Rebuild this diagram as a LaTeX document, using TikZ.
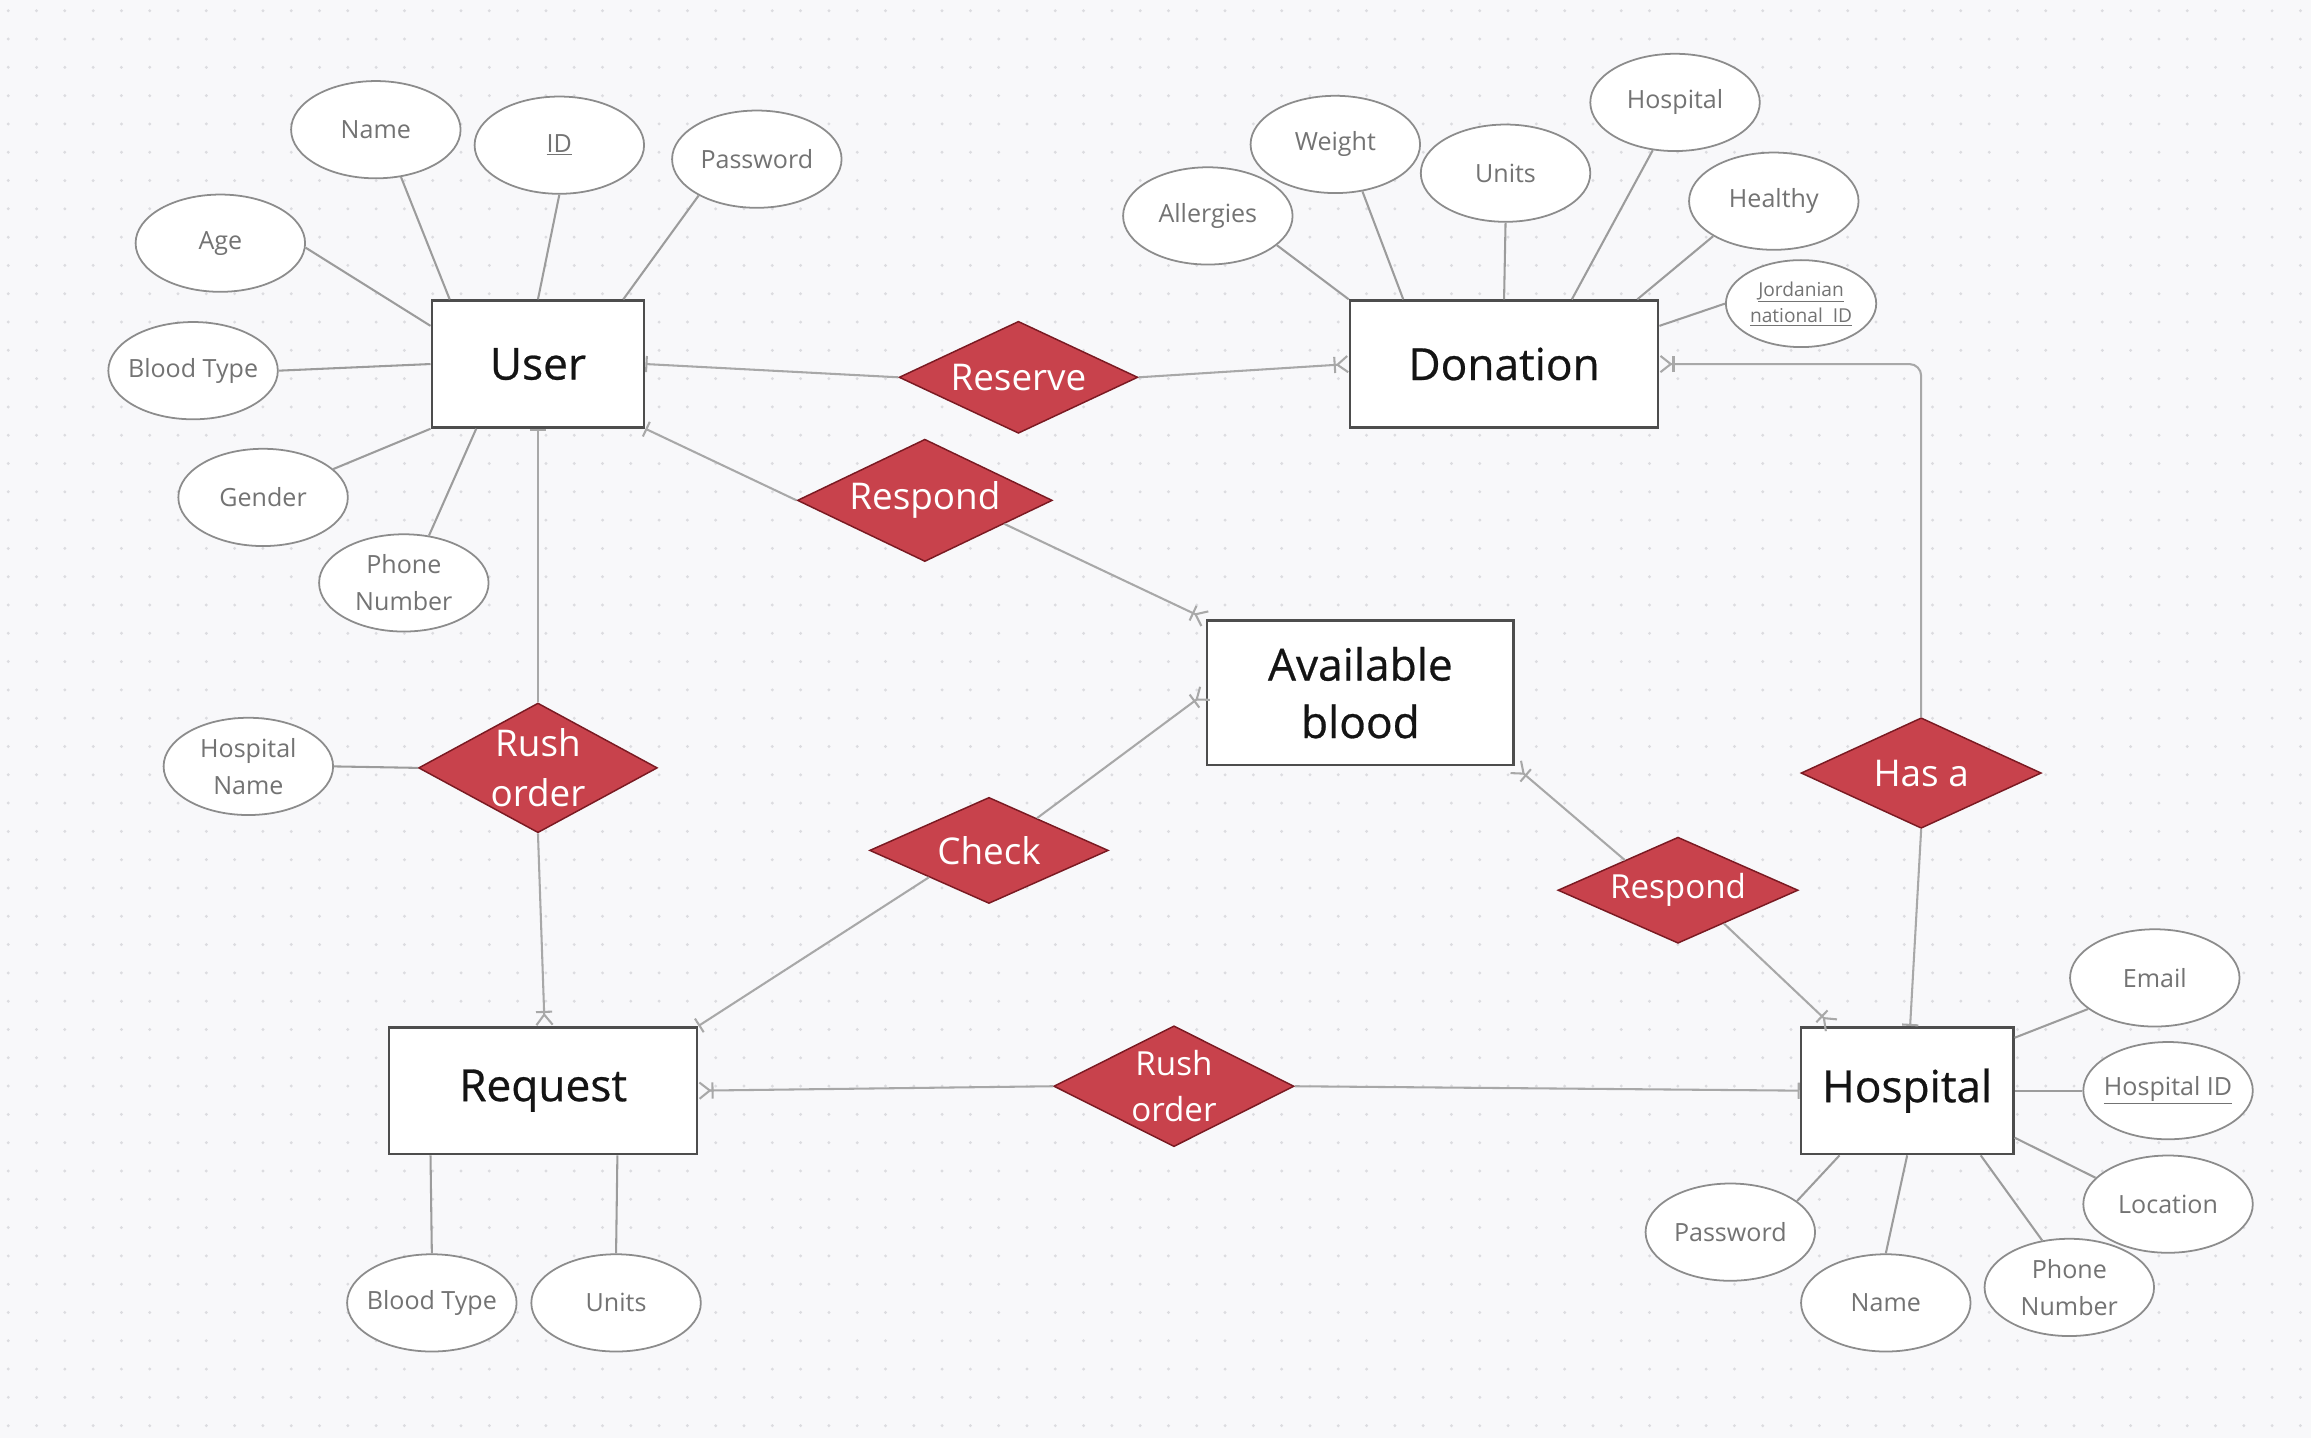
\documentclass[tikz,border=0pt]{standalone}
\usepackage{fontspec}
\setmainfont{Open Sans}
\newfontfamily\entfont[FakeBold=0.6]{Open Sans}
\usetikzlibrary{shapes.geometric,arrows.meta,calc}
\definecolor{bgc}{HTML}{F8F8FA}
\definecolor{dotc}{HTML}{DCDCE0}
\definecolor{entb}{HTML}{4D4D4D}
\definecolor{relc}{HTML}{C8424C}
\definecolor{reld}{HTML}{7A1A22}
\definecolor{attb}{HTML}{8C8C8C}
\definecolor{attt}{HTML}{737373}
\definecolor{linec}{HTML}{A8A8A8}
\definecolor{alinec}{HTML}{9C9C9C}
\begin{document}
\begin{tikzpicture}[x=1pt,y=-1pt,
 ent/.style={draw=entb, fill=white, line width=1.8pt, inner sep=0pt, align=center, text=black!92, font=\entfont\fontsize{30}{39}\selectfont},
 rel/.style={diamond, draw=reld, fill=relc, line width=1pt, inner sep=0pt},
 reltxt/.style={text=white, align=center, font=\fontsize{25}{34}\selectfont, inner sep=0pt},
 reltxts/.style={text=white, align=center, font=\fontsize{22.5}{31}\selectfont, inner sep=0pt},
 att/.style={ellipse, draw=attb, fill=white, line width=1.2pt, inner sep=0pt, minimum width=115pt, minimum height=66pt},
 atttxt/.style={text=attt, align=center, font=\fontsize{17}{25}\selectfont, inner sep=0pt},
 aline/.style={draw=alinec, line width=1.4pt},
 rline/.style={draw=linec, line width=1.4pt},
 barS/.style={{Bar[width=11pt]}-},
 barE/.style={-{Bar[width=11pt]}},
 crowS/.style={{Straight Barb[reversed,length=7pt,width=11pt]Bar[width=11pt]}-},
 crowE/.style={-{Bar[width=11pt]Straight Barb[reversed,length=7pt,width=11pt]}}
]
\fill[bgc] (0,0) rectangle (1568,976);
\useasboundingbox (0,0) rectangle (1568,976);
\foreach \i in {0,...,81}{\foreach \j in {0,...,50}{\fill[dotc] (5.6+\i*19.2,7.3+\j*19.2) circle (1.1pt);}}

% entities
\node[ent, minimum width=144pt, minimum height=86pt] (user) at (365,247) {User};
\node[ent, minimum width=209pt, minimum height=86pt] (donation) at (1020.5,247) {Donation};
\node[ent, minimum width=208pt, minimum height=98pt] (avail) at (923,470) {Available\\blood};
\node[ent, minimum width=209pt, minimum height=86pt] (request) at (368.5,740) {Request};
\node[ent, minimum width=144pt, minimum height=86pt] (hospital) at (1294,740) {Hospital};

% relationships
\node[rel, minimum width=162pt, minimum height=76pt, label={[reltxt]center:Reserve}] (reserve) at (691,256) {};
\node[rel, minimum width=173pt, minimum height=83pt, label={[reltxt]center:Respond}] (respond1) at (627.5,339.5) {};
\node[rel, minimum width=162pt, minimum height=88pt, label={[reltxt]center:Rush\\order}] (rush1) at (365,521) {};
\node[rel, minimum width=162pt, minimum height=72pt, label={[reltxt]center:Check}] (check) at (671,577) {};
\node[rel, minimum width=163pt, minimum height=75pt, label={[reltxt]center:Has a}] (hasa) at (1303.5,524.5) {};
\node[rel, minimum width=163pt, minimum height=72pt, label={[reltxts]center:Respond}] (respond2) at (1138.5,604) {};
\node[rel, minimum width=163pt, minimum height=82pt, label={[reltxts]center:Rush\\order}] (rush2) at (796.5,737) {};

% attributes of User
\node[att, label={[atttxt]center:Name}] (uName) at (255,88) {};
\node[att, label={[atttxt]center:\underline{ID}}] (uID) at (379.5,98.5) {};
\node[att, label={[atttxt]center:Password}] (uPwd) at (513.5,108) {};
\node[att, label={[atttxt]center:Age}] (uAge) at (149.5,165) {};
\node[att, label={[atttxt]center:Blood Type}] (uBT) at (131,251.5) {};
\node[att, label={[atttxt]center:Gender}] (uGen) at (178.5,337.5) {};
\node[att, label={[atttxt]center:Phone\\Number}] (uPhone) at (274,395.5) {};
% attributes of Donation
\node[att, label={[atttxt]center:Allergies}] (dAll) at (819.5,146.5) {};
\node[att, label={[atttxt]center:Weight}] (dWt) at (906,98) {};
\node[att, label={[atttxt]center:Units}] (dUnits) at (1021.5,117.5) {};
\node[att, label={[atttxt]center:Hospital}] (dHosp) at (1136.5,69.5) {};
\node[att, label={[atttxt]center:Healthy}] (dHealthy) at (1203.5,136.5) {};
\node[att, minimum width=102pt, minimum height=59pt, label={[atttxt, font=\fontsize{13}{18}\selectfont]center:\underline{Jordanian}\\\underline{national~~ID}}] (dJID) at (1222,206) {};
% attributes of Request
\node[att, label={[atttxt]center:Blood Type}] (rBT) at (293,884) {};
\node[att, label={[atttxt]center:Units}] (rUnits) at (418,884) {};
% attribute of Rush order
\node[att, label={[atttxt]center:Hospital\\Name}] (rhName) at (168.5,520) {};
% attributes of Hospital
\node[att, label={[atttxt]center:Email}] (hEmail) at (1462,663.5) {};
\node[att, label={[atttxt]center:\underline{Hospital ID}}] (hID) at (1471,740) {};
\node[att, label={[atttxt]center:Location}] (hLoc) at (1471,817) {};
\node[att, label={[atttxt]center:Phone\\Number}] (hPhone) at (1404,873.5) {};
\node[att, label={[atttxt]center:Name}] (hName) at (1279.5,884) {};
\node[att, label={[atttxt]center:Password}] (hPwd) at (1174,836) {};

% attribute lines
\draw[aline] (uName.-62) -- ([xshift=13pt]user.north west);
\draw[aline] (uID.south) -- (user.north);
\draw[aline] (uPwd.-148) -- ([xshift=-15pt]user.north east);
\draw[aline] (uAge.-3) -- ([yshift=-18pt]user.north west);
\draw[aline] (uBT.east) -- (user.west);
\draw[aline] (uGen.22) -- (user.south west);
\draw[aline] (uPhone.62) -- ([xshift=31pt]user.south west);
\draw[aline] (dAll.-23) -- (donation.north west);
\draw[aline] (dWt.-60) -- ([xshift=37pt]donation.north west);
\draw[aline] (dUnits.south) -- (donation.north);
\draw[aline] (dHosp.-115) -- ([xshift=46pt]donation.north);
\draw[aline] (dHealthy.-150) -- ([xshift=-15pt]donation.north east);
\draw[aline] (dJID.west) -- ([yshift=-18pt]donation.north east);
\draw[aline] (rBT.north) -- ([xshift=29pt]request.south west);
\draw[aline] (rUnits.north) -- ([xshift=-55pt]request.south east);
\draw[aline] (rhName.east) -- (rush1.west);
\draw[aline] (hEmail.-155) -- ([yshift=-8pt]hospital.north east);
\draw[aline] (hID.west) -- (hospital.east);
\draw[aline] (hLoc.160) -- ([yshift=12pt]hospital.south east);
\draw[aline] (hPhone.120) -- ([xshift=-23pt]hospital.south east);
\draw[aline] (hName.north) -- (hospital.south);
\draw[aline] (hPwd.25) -- ([xshift=27pt]hospital.south west);

% relationship connectors
\draw[rline, barS] (user.east) -- (reserve.west);
\draw[rline, crowE] (reserve.east) -- (donation.west);
\draw[rline, crowS, rounded corners=8pt] (donation.east) -| (hasa.north);
\draw[rline, barE] (hasa.south) -- ([xshift=2pt]hospital.north);
\draw[rline, barS] (user.south east) -- (respond1.west);
\draw[rline, crowE] ($(respond1.east)!0.38!(respond1.south)$) -- (avail.north west);
\draw[rline, barS] (user.south) -- (rush1.north);
\draw[rline, crowE] (rush1.south) -- ([xshift=1pt]request.north);
\draw[rline, crowE] ($(check.north)!0.4!(check.east)$) -- (avail.west);
\draw[rline, barE] ($(check.west)!0.5!(check.south)$) -- (request.north east);
\draw[rline, crowS] (avail.south east) -- ($(respond2.west)!0.56!(respond2.north)$);
\draw[rline, crowE] ($(respond2.east)!0.62!(respond2.south)$) -- ([xshift=22pt]hospital.north west);
\draw[rline, crowS] (request.east) -- (rush2.west);
\draw[rline, barE] (rush2.east) -- (hospital.west);
\end{tikzpicture}
\end{document}
